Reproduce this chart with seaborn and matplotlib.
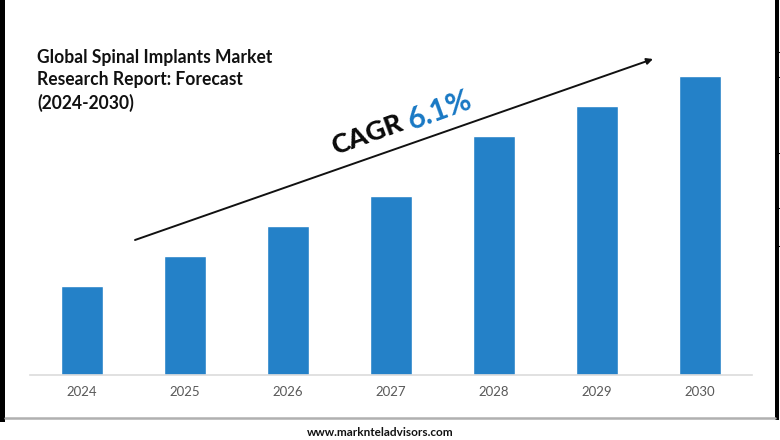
import numpy as np
import pandas as pd
import matplotlib
matplotlib.use("Agg")
import matplotlib.pyplot as plt
import seaborn as sns

years = ["2024", "2025", "2026", "2027", "2028", "2029", "2030"]
market_size = [89, 119, 149, 179, 239, 269, 299]

W, H = 780, 440

sns.set_theme(style="white")
plt.rcParams["font.family"] = ["Lato", "DejaVu Sans"]

fig = plt.figure(figsize=(W / 100, H / 100), dpi=100, facecolor="white")

# bars, axes box in pixel terms
ax = fig.add_axes([29.8 / W, 1 - 375 / H, 722 / W, 340 / H])
df = pd.DataFrame({"year": years, "size": market_size})
sns.barplot(data=df, x="year", y="size", color="#2481c8", saturation=1, width=0.405, ax=ax)
ax.set_xlim(-52 / 103, 6 + 52 / 103)
ax.set_ylim(0, 340)
ax.set_xlabel("")
ax.set_ylabel("")
ax.set_yticks([])
sns.despine(ax=ax, left=True)
ax.spines["bottom"].set_color("#dcdcdc")
ax.spines["bottom"].set_linewidth(1.2)
ax.patch.set_alpha(0)
ax.tick_params(axis="x", length=0, pad=8, labelsize=9.5, labelcolor="#595959")

# overlay in pixel coords for the annotations and frame
ov = fig.add_axes([0, 0, 1, 1])
ov.set_xlim(0, W)
ov.set_ylim(H, 0)
ov.axis("off")
ov.patch.set_alpha(0)

ov.text(37, 57.5, "Global Spinal Implants Market", fontsize=12.65, fontweight="bold", color="#111111", va="center")
ov.text(37, 80, "Research Report: Forecast", fontsize=12.65, fontweight="bold", color="#111111", va="center")
ov.text(37, 102.5, "(2024-2030)", fontsize=12.65, fontweight="bold", color="#111111", va="center")

ov.annotate("", xy=(653, 59), xytext=(135, 240),
            arrowprops=dict(arrowstyle="-|>", color="#111111", lw=1.4, mutation_scale=9, shrinkA=0, shrinkB=0))
ov.text(367, 135, "CAGR", fontsize=19.5, fontweight="black", color="#0a0a0a", rotation=20, ha="center", va="center", rotation_mode="anchor")
ov.text(440, 110, "6.1%", fontsize=21.5, fontweight="bold", color="#1878c4", rotation=20, ha="center", va="center", rotation_mode="anchor")

# page edge and footer
ov.plot([5, 775], [418, 418], color="#b0b0b0", lw=1.8)
ov.text(380.5, 432.5, "www.marknteladvisors.com", fontsize=8.5, fontweight="bold", color="#111111", ha="center", va="center")
ov.fill_between([0, 5], 0, 422, color="black", lw=0)
ov.fill_between([775, 779.2], 0, 420, color="black", lw=0)
for y in [52, 77, 153, 208, 246]:
    ov.plot([779, 780], [y, y], color="black", lw=0.8)

fig.savefig("out.png", dpi=100, facecolor="white")
